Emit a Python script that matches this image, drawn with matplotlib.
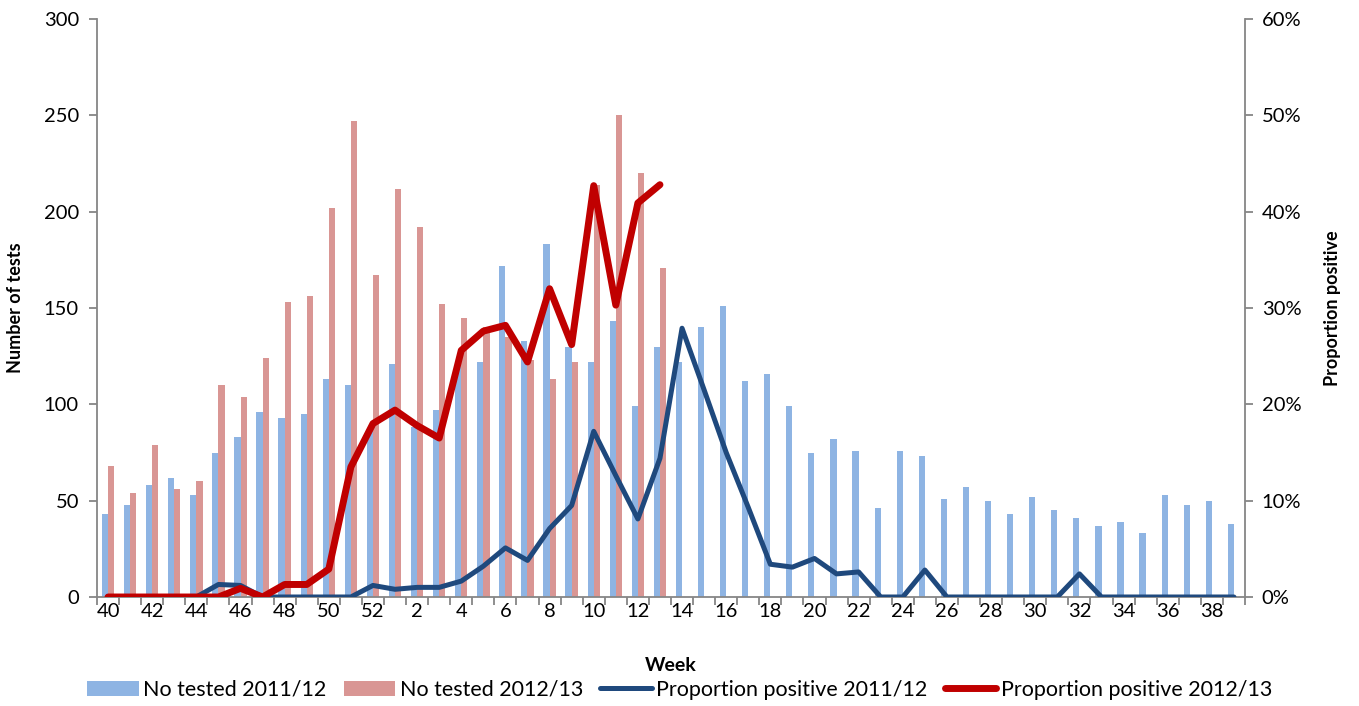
import matplotlib
matplotlib.use("Agg")
from matplotlib import pyplot as plt
from matplotlib.patches import Patch
from matplotlib.lines import Line2D
from matplotlib.ticker import FuncFormatter, FixedLocator
import numpy as np

plt.rcParams["font.family"] = ["Lato", "DejaVu Sans"]

# Week numbers, season runs from week 40 to week 39
weeks = list(range(40, 53)) + list(range(1, 40))

# Number tested per week, 2011/12 season (all 52 weeks)
tested_1112 = [43, 48, 58, 62, 53, 75, 83, 96, 93, 95, 113, 110, 87,
               121, 88, 97, 120, 122, 172, 133, 183, 130, 122, 143, 99, 130,
               122, 140, 151, 112, 116, 99, 75, 82, 76, 46, 76, 73, 51,
               57, 50, 43, 52, 45, 41, 37, 39, 33, 53, 48, 50, 38]

# Number tested per week, 2012/13 season (weeks 40 to 13 so far)
tested_1213 = [68, 54, 79, 56, 60, 110, 104, 124, 153, 156, 202, 247, 167,
               212, 192, 152, 145, 140, 135, 123, 113, 122, 214, 250, 220, 171]

# Proportion positive (%), 2011/12
pos_1112 = [0, 0, 0, 0, 0, 1.3, 1.2, 0, 0, 0, 0, 0, 1.2,
            0.8, 1.0, 1.0, 1.65, 3.2, 5.1, 3.8, 7.1, 9.5, 17.2, 12.6, 8.1, 14.4,
            27.9, 21.5, 15.0, 9.3, 3.4, 3.1, 4.0, 2.4, 2.6, 0, 0, 2.8, 0,
            0, 0, 0, 0, 0, 2.4, 0, 0, 0, 0, 0, 0, 0]

# Proportion positive (%), 2012/13
pos_1213 = [0, 0, 0, 0, 0, 0, 0.9, 0, 1.3, 1.3, 2.9, 13.5, 18.0,
            19.4, 17.8, 16.5, 25.6, 27.6, 28.2, 24.4, 32.0, 26.2, 42.7, 30.3, 40.9, 42.8]

c_bar1 = "#8EB4E3"
c_bar2 = "#D99694"
c_line1 = "#1F497D"
c_line2 = "#C00000"
c_axis = "#868686"

fig = plt.figure(figsize=(13.59, 7.06), dpi=100)
ax = fig.add_axes([97 / 1359, 1 - 597 / 706, (1245 - 97) / 1359, (597 - 19) / 706])
ax2 = ax.twinx()

x = np.arange(len(weeks))
bw = 0.28
ax.bar(x - bw / 2, tested_1112, width=bw, color=c_bar1, zorder=2)
ax.bar(x[:len(tested_1213)] + bw / 2, tested_1213, width=bw, color=c_bar2, zorder=2)

ax2.plot(x, pos_1112, color=c_line1, lw=3.6, solid_joinstyle="round", solid_capstyle="round")
ax2.plot(x[:len(pos_1213)], pos_1213, color=c_line2, lw=5, solid_joinstyle="round", solid_capstyle="round")

ax.set_xlim(-0.5, len(weeks) - 0.5)
ax.set_ylim(0, 300)
ax2.set_ylim(0, 60)
ax.set_yticks(np.arange(0, 301, 50))
ax2.set_yticks(np.arange(0, 61, 10))
ax2.yaxis.set_major_formatter(FuncFormatter(lambda v, p: f"{int(v)}%"))

ax.set_xticks(x[::2])
ax.set_xticklabels([str(w) for w in weeks[::2]])
ax.xaxis.set_minor_locator(FixedLocator(np.arange(-0.5, len(weeks), 1)))

for a in (ax, ax2):
    for s in a.spines.values():
        s.set_visible(False)
ax.spines["left"].set_visible(True)
ax.spines["bottom"].set_visible(True)
ax2.spines["right"].set_visible(True)
for s in (ax.spines["left"], ax.spines["bottom"], ax2.spines["right"]):
    s.set_color(c_axis)
    s.set_linewidth(1.3)

ax.tick_params(axis="x", which="major", length=0, pad=4, labelsize=14.5)
ax.tick_params(axis="x", which="minor", length=6, color=c_axis, width=1.3)
ax.tick_params(axis="y", length=6, color=c_axis, width=1.3, labelsize=14.5, pad=7)
ax2.tick_params(axis="y", length=6, color=c_axis, width=1.3, labelsize=14.5, pad=6)

ax.set_xlabel("Week", fontsize=14, fontweight="bold", labelpad=27)
ax.set_ylabel("Number of tests", fontsize=13, fontweight="bold", labelpad=14)
ax2.set_ylabel("Proportion positive", fontsize=13, fontweight="bold", labelpad=16)

handles = [
    Patch(facecolor=c_bar1, edgecolor="none"),
    Patch(facecolor=c_bar2, edgecolor="none"),
    Line2D([0], [0], color=c_line1, lw=3.6, solid_capstyle="round"),
    Line2D([0], [0], color=c_line2, lw=5, solid_capstyle="round"),
]
labels = ["No tested 2011/12", "No tested 2012/13",
          "Proportion positive 2011/12", "Proportion positive 2012/13"]
fig.legend(handles, labels, loc="center", bbox_to_anchor=(0.5, 1 - 690 / 706), ncol=4,
           frameon=False, fontsize=15.5, handlelength=2.4, handleheight=0.7,
           handletextpad=0.2, columnspacing=0.8)

fig.savefig("out.png", dpi=100)
